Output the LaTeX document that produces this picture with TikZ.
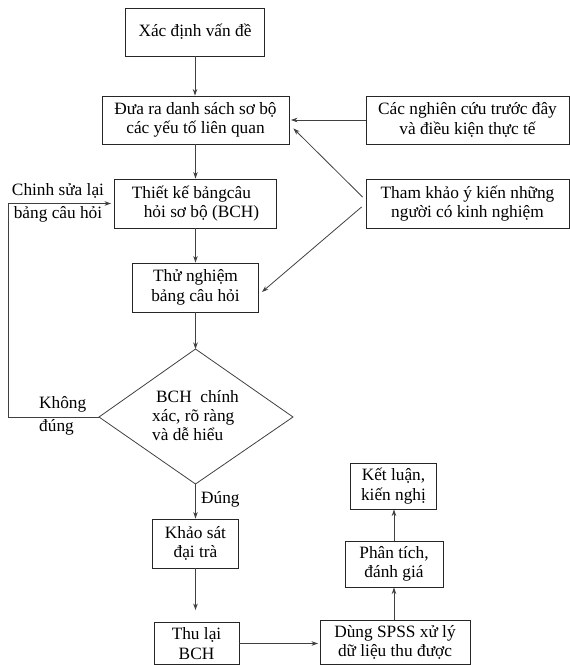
\documentclass[tikz,border=0pt]{standalone}
\usepackage{fontspec}
\setmainfont{Liberation Serif}
\usetikzlibrary{arrows.meta,calc}
\begin{document}
\begin{tikzpicture}[x=1pt,y=-1pt,
  txt/.style={font=\fontsize{17.3}{19.5}\selectfont},
  box/.style={txt, draw=black!85, line width=0.9pt, inner sep=0pt, align=center},
  lbl/.style={txt, inner sep=0pt},
  arr/.style={draw=black!75, line width=0.8pt, -{Stealth[length=6.5pt,width=4.5pt]}}]
\useasboundingbox (0,0) rectangle (570,665);
% main column
\node[box, minimum width=139pt, minimum height=48pt] (n1) at (195,32) {Xác định vấn đề};
\node[box, minimum width=187pt, minimum height=48pt] (n2) at (195.5,120) {Đưa ra danh sách sơ bộ\\ các yếu tố liên quan};
\node[box, minimum width=203pt, minimum height=48pt] (r1) at (467.5,120) {Các nghiên cứu trước đây\\ và điều kiện thực tế};
\node[box, minimum width=162pt, minimum height=49pt, align=left] (n3) at (195.5,203.5) {Thiết kế bảngcâu\\ \hspace*{12pt}hỏi sơ bộ (BCH)};
\node[box, minimum width=203pt, minimum height=49pt] (r2) at (467.5,203.5) {Tham khảo ý kiến những\\ người có kinh nghiệm};
\node[box, minimum width=126pt, minimum height=49pt] (n4) at (195.5,287.5) {Thử nghiệm\\ bảng câu hỏi};
% decision
\coordinate (dT) at (195.5,349);
\coordinate (dR) at (293,417);
\coordinate (dB) at (195.5,484);
\coordinate (dL) at (99,417);
\draw[draw=black!75, line width=0.8pt] (dT) -- (dR) -- (dB) -- (dL) -- cycle;
\node[lbl, align=left, font=\fontsize{17.3}{19}\selectfont] (dtext) at (195.5,416) {\hspace*{4pt}BCH\ \ chính\\ xác, rõ ràng\\ và dễ hiểu};
% lower boxes
\node[box, minimum width=86pt, minimum height=49pt] (n5) at (195.5,543.5) {Khảo sát\\ đại trà};
\node[box, minimum width=85pt, minimum height=42pt] (n6) at (196.5,643.5) {Thu lại\\ BCH};
\node[box, minimum width=150pt, minimum height=44pt] (n7) at (395,642.5) {Dùng SPSS xử lý\\ dữ liệu thu được};
\node[box, minimum width=98pt, minimum height=46pt] (n8) at (394,564) {Phân tích,\\ đánh giá};
\node[box, minimum width=86pt, minimum height=46pt] (n9) at (393.5,486) {Kết luận,\\ kiến nghị};
% labels
\node[lbl] (lab1) at (58,191) {Chinh sửa lại};
\node[lbl] (lab2) at (58,214) {bảng câu hỏi};
\node[lbl, anchor=west] (lab3) at (39,404) {Không};
\node[lbl, anchor=west] (lab4) at (39,427) {đúng};
\node[lbl, anchor=west] (lab5) at (201,499) {Đúng};
% connectors
\draw[arr] (n1.south) -- (n1.south |- n2.north);
\draw[arr, shorten >=1.5pt] (r1.west) -- (n2.east);
\draw[arr] ($(r2.west)+(-3,-6.5)$) -- ($(n2.south east)+(4,-16)$);
\draw[arr] ($(r2.west)+(-4,3.5)$) -- ($(n4.east)+(3,4.5)$);
\draw[arr] (n2.south) -- (n3.north);
\draw[arr] (n3.south) -- (n4.north);
\draw[arr] (n4.south) -- (dT);
\coordinate (lp) at (8,417);
\draw[arr, shorten >=3pt] (dL) -- (lp) |- (n3.west);
\draw[arr] (dB) -- (dB |- n5.north);
\draw[arr, shorten >=12pt] (n5.south) -- (n5.south |- n6.north);
\draw[arr, shorten >=1.5pt] (n6.east) -- (n6.east -| n7.west);
\draw[arr] (n8.south |- n7.north) -- (n8.south);
\draw[arr] (n8.north) -- (n8.north |- n9.south);
\end{tikzpicture}
\end{document}
